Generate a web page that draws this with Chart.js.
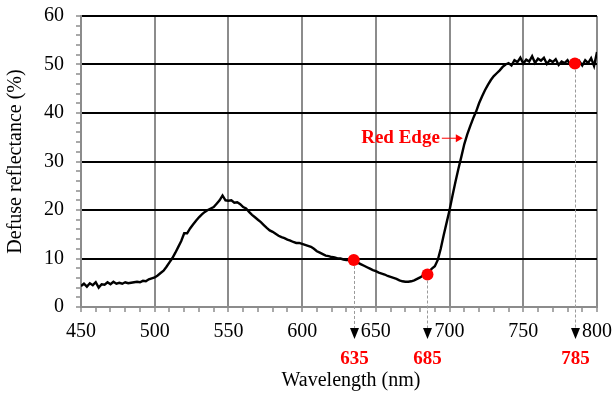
<!DOCTYPE html>
<html>
<head>
<meta charset="utf-8">
<script src="https://cdn.jsdelivr.net/npm/chart.js@4/dist/chart.umd.min.js"></script>
<style>
  body { margin: 0; background: #fff; }
  canvas { display: block; }
</style>
</head>
<body>
<canvas id="spectrumChart" width="615" height="395"></canvas>
<script>
const startNm = 450;
const stepNm = 2;
const reflectance = [
    4.3, 4.8, 4.2, 4.9, 4.5, 5.1, 4.0, 4.7, 4.6, 5.1,   // 450-468
    4.7, 5.2, 4.8, 5.0, 4.8, 5.1, 4.9, 5.0, 5.1, 5.2,   // 470-488
    5.1, 5.4, 5.3, 5.7, 5.9, 6.1, 6.5, 7.0, 7.5, 8.3,   // 490-508
    9.2, 10.1, 11.2, 12.4, 13.6, 15.2, 15.2, 16.2, 17.0, 17.8, // 510-528
    18.5, 19.1, 19.6, 20.0, 20.3, 20.6, 21.3, 22.0, 23.0, 22.0, // 530-548
    21.9, 22.0, 21.5, 21.6, 21.2, 20.6, 20.3, 19.6, 19.0, 18.5, // 550-568
    18.0, 17.5, 16.9, 16.3, 15.8, 15.5, 15.1, 14.7, 14.4, 14.2, // 570-588
    13.9, 13.7, 13.4, 13.2, 13.2, 13.0, 12.8, 12.6, 12.4, 12.0, // 590-608
    11.5, 11.2, 10.9, 10.6, 10.5, 10.3, 10.2, 10.0, 10.0, 9.8,  // 610-628
    9.7, 9.7, 9.6, 9.5, 9.1, 8.8, 8.5, 8.2, 7.9, 7.6,   // 630-648
    7.4, 7.1, 6.9, 6.7, 6.4, 6.2, 6.0, 5.8, 5.5, 5.3,   // 650-668
    5.2, 5.2, 5.3, 5.5, 5.8, 6.1, 6.5, 6.8, 7.3, 7.9,   // 670-688
    8.4, 9.7, 12.0, 14.8, 17.4, 20.0, 23.0, 25.8, 28.5, 31.0, // 690-708
    33.6, 35.6, 37.3, 38.9, 40.3, 42.0, 43.4, 44.7, 45.8, 46.8, // 710-728
    47.6, 48.2, 48.8, 49.5, 50.0, 50.3, 49.8, 50.9, 50.5, 51.4, // 730-748
    50.2, 51.0, 50.6, 51.7, 50.3, 51.2, 50.8, 51.4, 50.1, 50.9, // 750-768
    50.5, 51.1, 49.9, 50.6, 50.3, 50.9, 49.9, 50.4, 50.0, 50.7, // 770-788
    49.8, 50.9, 50.3, 51.3, 49.7, 52.6                          // 790-800
];

// Marked wavelengths
const markerNm = [635, 685, 785];
const markerValue = [9.7, 6.7, 50.2];

// Axis limits
const xMin = 450, xMax = 800;
const yMin = 0, yMax = 60;

const spectrum = reflectance.map((v, i) => ({ x: startNm + i * stepNm, y: v }));
const markers = markerNm.map((w, i) => ({ x: w, y: markerValue[i] }));

const serif = '"Liberation Serif", "Times New Roman", serif';

// drop the label overflow padding so layout.padding alone places the plot area
function noLabelPadding(scale) {
    scale.paddingTop = 0;
    scale.paddingBottom = 0;
    scale.paddingLeft = 0;
    scale.paddingRight = 0;
}

// Dashed drop lines, arrow heads, red labels, "Red Edge" note and x title
const annotations = {
    id: 'annotations',
    afterDatasetsDraw(chart) {
        const { ctx, scales: { x, y } } = chart;
        ctx.save();
        markerNm.forEach((w, i) => {
            const px = Math.round(x.getPixelForValue(w)) + 0.5;
            const py = y.getPixelForValue(markerValue[i]) + 6;
            ctx.strokeStyle = '#9a9a9a';
            ctx.lineWidth = 1;
            ctx.setLineDash([3, 2]);
            ctx.beginPath();
            ctx.moveTo(px, py);
            ctx.lineTo(px, y.bottom + 22);
            ctx.stroke();
            ctx.setLineDash([]);
        });
        ctx.restore();
    },
    afterDraw(chart) {
        const { ctx, scales: { x, y } } = chart;
        ctx.save();
        markerNm.forEach((w) => {
            const px = Math.round(x.getPixelForValue(w)) + 0.5;
            ctx.fillStyle = '#000';
            ctx.beginPath();
            ctx.moveTo(px - 4.5, y.bottom + 21);
            ctx.lineTo(px + 4.5, y.bottom + 21);
            ctx.lineTo(px, y.bottom + 32);
            ctx.closePath();
            ctx.fill();

            ctx.fillStyle = '#ff0000';
            ctx.font = 'bold 19px ' + serif;
            ctx.textAlign = 'center';
            ctx.textBaseline = 'middle';
            ctx.fillText(String(w), px, y.bottom + 52);
        });

        // Red Edge arrow
        const tipX = x.getPixelForValue(709);
        const tipY = y.getPixelForValue(34.8);
        ctx.strokeStyle = '#ff0000';
        ctx.fillStyle = '#ff0000';
        ctx.lineWidth = 1;
        ctx.beginPath();
        ctx.moveTo(tipX - 21, tipY);
        ctx.lineTo(tipX - 5, tipY);
        ctx.stroke();
        ctx.beginPath();
        ctx.moveTo(tipX, tipY);
        ctx.lineTo(tipX - 7, tipY - 4);
        ctx.lineTo(tipX - 7, tipY + 4);
        ctx.closePath();
        ctx.fill();
        ctx.font = 'bold 19px ' + serif;
        ctx.textAlign = 'right';
        ctx.textBaseline = 'middle';
        ctx.fillText('Red Edge', tipX - 23, tipY);

        // x axis title
        ctx.fillStyle = '#000';
        ctx.font = '20px ' + serif;
        ctx.textAlign = 'center';
        ctx.textBaseline = 'middle';
        ctx.fillText('Wavelength (nm)', (x.left + x.right) / 2 + 12, 381);
        ctx.restore();
    }
};

const ctxSpec = document.getElementById('spectrumChart').getContext('2d');
const spectrumChart = new Chart(ctxSpec, {
    type: 'line',
    data: {
        datasets: [
            {
                label: 'Marked',
                data: markers,
                showLine: false,
                pointRadius: 6,
                pointHoverRadius: 6,
                pointBackgroundColor: '#ff0000',
                pointBorderColor: '#ff0000',
                pointBorderWidth: 0,
                order: 0
            },
            {
                label: 'Reflectance',
                data: spectrum,
                borderColor: '#000',
                borderWidth: 2.4,
                pointRadius: 0,
                tension: 0,
                fill: false,
                order: 1
            }
        ]
    },
    options: {
        responsive: false,
        animation: false,
        devicePixelRatio: 1,
        layout: { padding: { top: 16, right: 18, bottom: 0, left: 0 } },
        plugins: {
            legend: { display: false },
            tooltip: { enabled: false }
        },
        scales: {
            x: {
                type: 'linear',
                min: xMin,
                max: xMax,
                afterFit: (scale) => { scale.height = 88; noLabelPadding(scale); },
                border: { color: '#8c8c8c', width: 2 },
                grid: {
                    color: (c) => (c.tick && c.tick.value % 50 === 0) ? '#8c8c8c' : 'rgba(0,0,0,0)',
                    lineWidth: 2,
                    tickColor: '#8c8c8c',
                    tickLength: 5,
                    tickWidth: 1.5
                },
                ticks: {
                    stepSize: 10,
                    autoSkip: false,
                    maxRotation: 0,
                    padding: 8,
                    color: '#000',
                    font: { family: serif, size: 20 },
                    callback: (v) => v % 50 === 0 ? v : ''
                }
            },
            y: {
                min: yMin,
                max: yMax,
                afterFit: (scale) => { scale.width = 81; noLabelPadding(scale); },
                border: { color: '#8c8c8c', width: 2 },
                grid: {
                    color: (c) => {
                        if (!c.tick) return 'rgba(0,0,0,0)';
                        if (c.tick.value === 0) return '#8c8c8c';
                        return c.tick.value % 10 === 0 ? '#000' : 'rgba(0,0,0,0)';
                    },
                    lineWidth: 2,
                    tickColor: '#8c8c8c',
                    tickLength: 5,
                    tickWidth: 1.5
                },
                ticks: {
                    stepSize: 2,
                    autoSkip: false,
                    padding: 12,
                    color: '#000',
                    font: { family: serif, size: 20 },
                    callback: (v) => v % 10 === 0 ? v : ''
                },
                title: {
                    display: true,
                    text: 'Defuse reflectance (%)',
                    color: '#000',
                    font: { family: serif, size: 20 },
                    padding: { top: 4, bottom: 0 }
                }
            }
        }
    },
    plugins: [annotations]
});
</script>
</body>
</html>
